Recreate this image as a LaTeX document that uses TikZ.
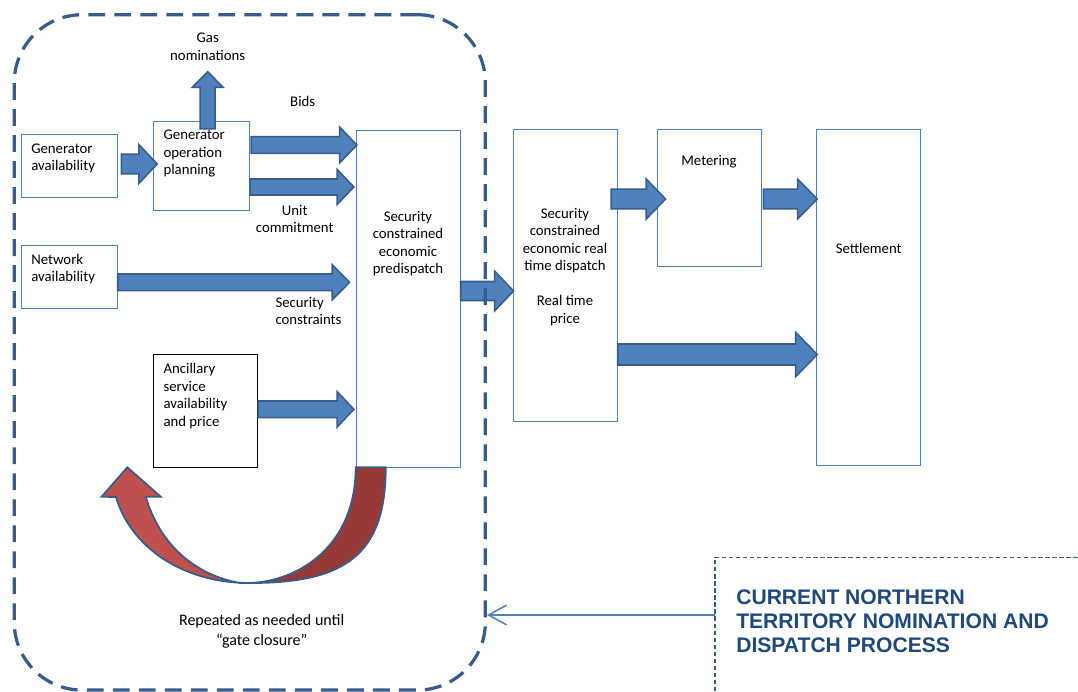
\documentclass[tikz,border=0pt]{standalone}
\usepackage{fontspec}
\setmainfont{Carlito}
\newfontfamily\titlefont{Liberation Sans}
\usepackage{tikz}
\usetikzlibrary{calc,arrows.meta}
\usepackage{xcolor}
\definecolor{boxblue}{RGB}{79,129,189}
\definecolor{arrowline}{RGB}{56,93,138}
\definecolor{frameblue}{RGB}{55,92,140}
\definecolor{loopred}{RGB}{192,80,77}
\definecolor{loopdark}{RGB}{150,58,56}
\definecolor{titleblue}{RGB}{31,73,125}
\tikzstyle{box} = [draw=boxblue, line width=0.6pt, fill=white, inner sep=0pt]
\tikzstyle{blackbox} = [draw=black, line width=0.7pt, fill=white, inner sep=0pt]
\tikzstyle{txt} = [inner sep=0pt, align=center, font=\fontsize{10.5}{12.4}\selectfont]
\tikzstyle{txtl} = [txt, align=left]
\tikzstyle{blockarr} = [draw=arrowline, fill=boxblue, line width=1.1pt, line join=miter]
\tikzstyle{loopframe} = [draw=frameblue, line width=2.3pt, dash pattern=on 12pt off 6.5pt, rounded corners=1.7cm, minimum width=11.775cm, minimum height=16.88cm, inner sep=0pt]
\tikzstyle{looparr} = [draw=arrowline, line width=1.3pt, line join=miter]
\tikzstyle{calloutbox} = [draw=frameblue, line width=0.8pt, dash pattern=on 3pt off 2pt]
\tikzstyle{pointer} = [draw=boxblue, line width=1.1pt, -{Straight Barb[length=12.8pt, width=14pt]}]
\tikzstyle{title} = [inner sep=0pt, align=left, text=titleblue, font=\titlefont\bfseries\fontsize{15}{17.2}\selectfont]

% block arrow from #1 to #2: shaft half width #3, head half width #4, head length #5 (px)
\newcommand{\blockarrow}[5]{%
  \pgfmathsetlengthmacro\baw{#3*0.025cm}%
  \pgfmathsetlengthmacro\bah{#4*0.025cm}%
  \pgfmathsetlengthmacro\bal{#5*0.025cm}%
  \path #1 coordinate (ba-s) #2 coordinate (ba-e);
  \path ($(ba-e)!\bal!(ba-s)$) coordinate (ba-h);
  \draw[blockarr] ($(ba-s)!\baw!90:(ba-e)$) -- ($(ba-h)!\baw!90:(ba-e)$)
    -- ($(ba-h)!\bah!90:(ba-e)$) -- (ba-e) -- ($(ba-h)!\bah!-90:(ba-e)$)
    -- ($(ba-h)!\baw!-90:(ba-e)$) -- ($(ba-s)!\baw!-90:(ba-e)$) -- cycle;}

\begin{document}
\begin{tikzpicture}[x=0.025cm, y=-0.025cm]
\useasboundingbox (0,0) rectangle (1078,691);

% input boxes
\node[box, minimum width=2.4cm, minimum height=1.575cm] (genav) at (69.3,165.8) {};
\node[box, minimum width=2.4cm, minimum height=2.2075cm] (genop) at (201.7,165.85) {};
\node[box, minimum width=2.4cm, minimum height=1.565cm] (netav) at (69.3,277) {};
\node[blackbox, minimum width=2.6cm, minimum height=2.8175cm] (ancil) at (205.7,410.7) {};

% dispatch chain
\node[box, minimum width=2.6cm, minimum height=8.4075cm] (predisp) at (408.3,298.85) {};
\node[box, minimum width=2.6cm, minimum height=7.3175cm] (rtdisp) at (565.3,275.35) {};
\node[box, minimum width=2.6cm, minimum height=3.4425cm] (meter) at (709,197.85) {};
\node[box, minimum width=2.6cm, minimum height=8.4175cm] (settle) at (868.7,297.35) {};

% labels
\node[txt, anchor=north] (gasnom) at (207.7,32.7) {Gas\\nominations};
\node[txt, anchor=north] (bids) at (302.7,96) {Bids};
\node[txt, anchor=north] (unitc) at (294.7,204.7) {Unit\\commitment};
\node[txtl, anchor=north west] (seccon) at (275.3,296.7) {Security\\constraints};

% block arrows
\blockarrow{($(genav.east |- 0,164)+(3.7,0)$)}{($(genop.west |- 0,164)+(4,0)$)}{9.8}{19.5}{18.4}
\blockarrow{($(genop.north -| gasnom.south)+(0,7.6)$)}{(gasnom.south |- 0,71.7)}{7.5}{15.5}{15.7}
\blockarrow{($(genop.east |- 0,145)+(1,0)$)}{($(predisp.west |- 0,145)+(1,0)$)}{8.3}{18}{17.3}
\blockarrow{(genop.east |- 0,187)}{($(predisp.west |- 0,187)+(-2,0)$)}{8}{17.5}{16.7}
\blockarrow{(netav.east |- 0,282.3)}{($(predisp.west |- 0,282.3)+(-6.3,0)$)}{8.3}{17.5}{17.3}
\blockarrow{(ancil.east |- 0,409.3)}{($(predisp.west |- 0,409.3)+(-2,0)$)}{8.3}{17.7}{16.7}
\blockarrow{(predisp.east |- 0,291)}{($(rtdisp.west |- 0,291)+(0.7,0)$)}{9.5}{20}{19}
\blockarrow{($(rtdisp.east |- 0,199)+(-6.6,0)$)}{($(meter.west |- 0,199)+(9,0)$)}{9.8}{20}{19.3}
\blockarrow{($(meter.east |- 0,199)+(2,0)$)}{($(settle.west |- 0,199)+(1,0)$)}{9.8}{20}{19.7}
\blockarrow{(rtdisp.east |- 0,354.5)}{($(settle.west |- 0,354.5)+(1,0)$)}{10.5}{22.3}{21.7}

% box texts
\node[txtl, anchor=north west] (genavtext) at (31,143.3) {Generator\\availability};
\node[txtl, anchor=north west] (genoptext) at (163.3,130) {Generator\\operation\\planning};
\node[txtl, anchor=north west] (netavtext) at (31,254) {Network\\availability};
\node[txtl, anchor=north west] (anciltext) at (163.3,363.3) {Ancillary\\service\\availability\\and price};
\node[txt, anchor=north] (predisptext) at (408,210.7) {Security\\constrained\\economic\\predispatch};
\node[txt, anchor=north] (rtdisptext) at (565,208) {Security\\constrained\\economic real\\time dispatch\\[12.4pt]Real time\\price};
\node[txt, anchor=north] (metertext) at (709,155) {Metering};
\node[txt, anchor=north] (settletext) at (868.7,243) {Settlement};

% repeat loop arrow
\draw[looparr, fill=loopdark] (355.7,467.3) -- (385.7,467.3)
  .. controls (385.7,555) and (345,583) .. (250,583)
  .. controls (300,581) and (355.7,545) .. (355.7,467.3) -- cycle;
\draw[looparr, fill=loopred] (250,583)
  .. controls (180,583) and (130,545) .. (116,497)
  -- (101.7,496.7) -- (127.3,467.3) -- (160.7,496.7) -- (145.7,496.7)
  .. controls (160,545) and (195,575) .. (240,583) -- cycle;
\node[txt, anchor=north, font=\fontsize{11.4}{13.6}\selectfont] (repeat) at (261.7,614.5) {Repeated as needed until\\``gate closure''};

% predispatch frame
\node[loopframe] (loop) at (249.8,352.4) {};

% callout
\draw[calloutbox] (715,691) -- (715,557.3) -- (1078,557.3);
\coordinate (callout) at (715,615);
\node[title, anchor=north west] (title) at (736,589) {CURRENT NORTHERN\\TERRITORY NOMINATION AND\\DISPATCH PROCESS};
\draw[pointer] (callout) -- (loop.east |- callout);
\end{tikzpicture}
\end{document}
